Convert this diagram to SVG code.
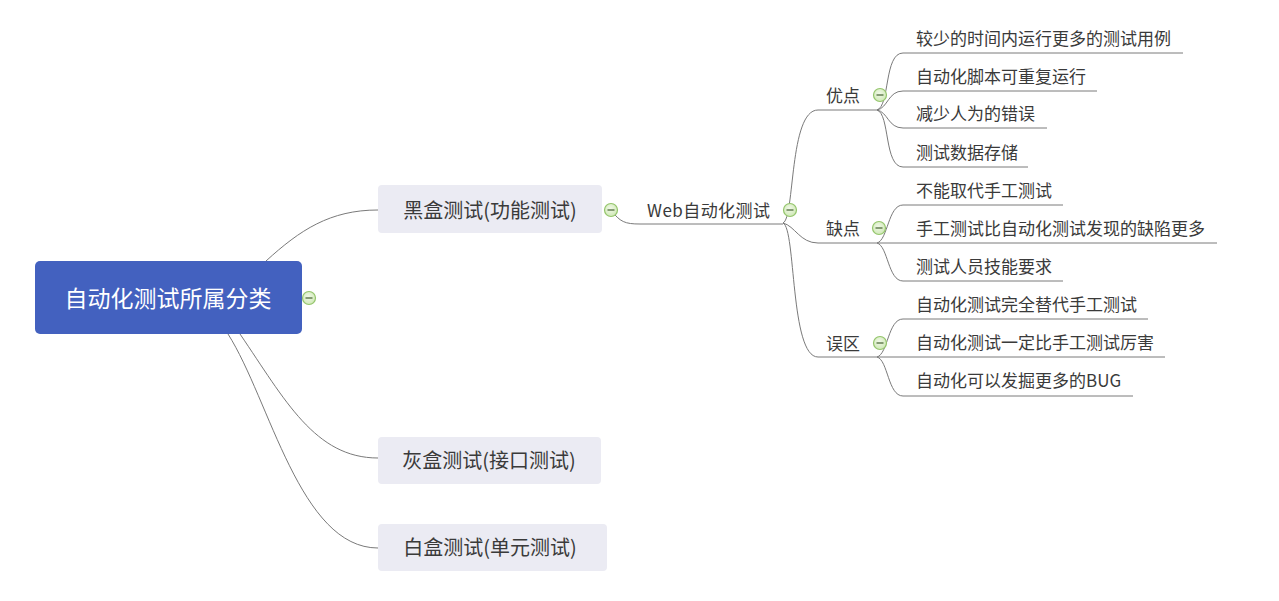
<svg xmlns="http://www.w3.org/2000/svg" width="1279" height="601" viewBox="0 0 1279 601">
<defs>
<style>
.ln{fill:none;stroke:#7a7a7a;stroke-width:1}
.t{font-family:"Noto Sans CJK SC","Microsoft YaHei",sans-serif;fill:#3a3a3a}
.t17{font-size:17px}
.t20{font-size:20px}
.box{fill:#ebebf3}
.ic circle{fill:url(#gr);stroke:#94c56c;stroke-width:1.2}
.ic line{stroke:#4f6b3c;stroke-width:1.3}
</style>
<radialGradient id="gr" cx="0.45" cy="0.4" r="0.6">
<stop offset="0" stop-color="#f1f9e8"/>
<stop offset="1" stop-color="#cfe8b6"/>
</radialGradient>
<g id="icon"><g class="ic"><circle cx="0" cy="0" r="6.5"/><line x1="-3.5" y1="0" x2="3.5" y2="0"/></g></g>
</defs>
<rect width="1279" height="601" fill="#ffffff"/>
<g id="connectors">
<path class="ln" d="M266,261 C300,230 330,210 378,210"/>
<path class="ln" d="M240,334 C285,400 315,458 378,458"/>
<path class="ln" d="M228,334 C270,400 300,548 378,548"/>
<path class="ln" d="M611,210 C620,222 625,224 640,224 H783"/>
<path class="ln" d="M783,223 C795,218 789,110 818,110 H877"/>
<path class="ln" d="M783,223 C795,226 800,243 818,243 H877"/>
<path class="ln" d="M783,223 C796,228 790,357 818,357 H877"/>
<path class="ln" d="M877,110 C890,106 884,53 903,53 H1183"/>
<path class="ln" d="M877,110 C888,108 888,91 903,91 H1097"/>
<path class="ln" d="M877,110 C888,112 888,128 903,128 H1047"/>
<path class="ln" d="M877,110 C890,114 884,167 903,167 H1028"/>
<path class="ln" d="M877,243 C888,240 888,205 903,205 H1063"/>
<path class="ln" d="M877,243 H1217"/>
<path class="ln" d="M877,243 C888,246 888,281 903,281 H1063"/>
<path class="ln" d="M877,357 C888,354 888,319 903,319 H1148"/>
<path class="ln" d="M877,357 H1165"/>
<path class="ln" d="M877,357 C888,360 888,396 903,396 H1133"/>
</g>
<g id="root">
<rect x="35" y="261" width="267" height="73" rx="5" fill="#4361bf"/>
<text class="t" x="168" y="306.5" font-size="23" style="fill:#ffffff" text-anchor="middle">自动化测试所属分类</text>
<use href="#icon" x="309" y="298"/>
</g>
<g id="black">
<rect class="box" x="378" y="185" width="224" height="48" rx="4"/>
<text class="t t20" x="490" y="217.5" text-anchor="middle">黑盒测试(功能测试)</text>
<use href="#icon" x="611" y="210"/>
</g>
<g id="gray">
<rect class="box" x="378" y="437" width="223" height="47" rx="4"/>
<text class="t t20" x="489" y="467.5" text-anchor="middle">灰盒测试(接口测试)</text>
</g>
<g id="white">
<rect class="box" x="378" y="524" width="229" height="47" rx="4"/>
<text class="t t20" x="490" y="555" text-anchor="middle">白盒测试(单元测试)</text>
</g>
<g id="web">
<text class="t t17" x="647" y="216.5" textLength="123">Web自动化测试</text>
<use href="#icon" x="790" y="210"/>
</g>
<g id="pros">
<text class="t t17" x="826" y="101.5">优点</text>
<use href="#icon" x="880" y="95"/>
</g>
<g id="cons">
<text class="t t17" x="826" y="234.5">缺点</text>
<use href="#icon" x="879" y="228"/>
</g>
<g id="myths">
<text class="t t17" x="826" y="349.5">误区</text>
<use href="#icon" x="880" y="343"/>
</g>
<g id="p1"><text class="t t17" x="916" y="44.5">较少的时间内运行更多的测试用例</text></g>
<g id="p2"><text class="t t17" x="916" y="82.5">自动化脚本可重复运行</text></g>
<g id="p3"><text class="t t17" x="916" y="120">减少人为的错误</text></g>
<g id="p4"><text class="t t17" x="916" y="158.5">测试数据存储</text></g>
<g id="c1"><text class="t t17" x="916" y="196.5">不能取代手工测试</text></g>
<g id="c2"><text class="t t17" x="916" y="234.5">手工测试比自动化测试发现的缺陷更多</text></g>
<g id="c3"><text class="t t17" x="916" y="272.5">测试人员技能要求</text></g>
<g id="m1"><text class="t t17" x="916" y="310.5">自动化测试完全替代手工测试</text></g>
<g id="m2"><text class="t t17" x="916" y="348.5">自动化测试一定比手工测试厉害</text></g>
<g id="m3"><text class="t t17" x="916" y="386.5">自动化可以发掘更多的BUG</text></g>
</svg>
